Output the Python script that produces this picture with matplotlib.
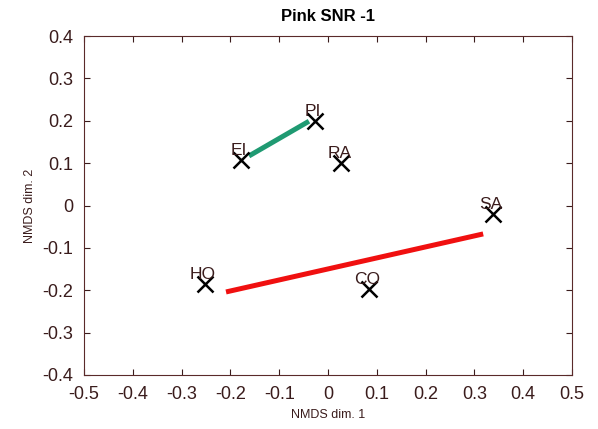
import numpy as np
import matplotlib.pyplot as plt

plt.rcParams['font.family'] = ['Liberation Sans', 'DejaVu Sans']

# NMDS coordinates of the six stimuli
names = ['PI', 'EI', 'RA', 'SA', 'HO', 'CO']
dim1 = [-0.027, -0.178, 0.027, 0.338, -0.252, 0.084]
dim2 = [0.200, 0.107, 0.100, -0.020, -0.185, -0.197]

# fitted vectors
green_x = [-0.162, -0.039]
green_y = [0.117, 0.199]
red_x = [-0.209, 0.318]
red_y = [-0.204, -0.067]

ink = '#3a1c1c'

fig = plt.figure(figsize=(5.98, 4.29), dpi=100)
ax = fig.add_axes([0.1405, 0.1259, 0.816, 0.790])

ax.plot(green_x, green_y, color='#1f9a72', lw=3.6, solid_capstyle='butt')
ax.plot(red_x, red_y, color='#f01010', lw=3.6, solid_capstyle='butt')
ax.plot(dim1, dim2, 'x', color='black', ms=12, mew=1.8)

for n, x, y in zip(names, dim1, dim2):
    ax.text(x - 0.004, y + 0.005, n, ha='center', va='bottom', fontsize=12.5, color=ink)

ax.set_xlim(-0.5, 0.5)
ax.set_ylim(-0.4, 0.4)
ax.set_xticks(np.arange(-0.5, 0.51, 0.1))
ax.set_yticks(np.arange(-0.4, 0.41, 0.1))
ax.set_xticklabels([f'{v:g}' if abs(v) > 1e-9 else '0' for v in np.round(np.arange(-0.5, 0.51, 0.1), 1)])
ax.set_yticklabels([f'{v:g}' if abs(v) > 1e-9 else '0' for v in np.round(np.arange(-0.4, 0.41, 0.1), 1)])
ax.tick_params(direction='in', top=True, right=True, length=4, width=0.8,
               labelsize=13, colors=ink, pad=8)
for s in ax.spines.values():
    s.set_color('#5a2a2a')
    s.set_linewidth(0.8)

ax.set_title('Pink SNR -1', fontsize=12, fontweight='bold', color='black', pad=11)
ax.set_xlabel('NMDS dim. 1', fontsize=9, color=ink, labelpad=4)
ax.set_ylabel('NMDS dim. 2', fontsize=9, color=ink, labelpad=4)

fig.savefig('out.png', dpi=100)
